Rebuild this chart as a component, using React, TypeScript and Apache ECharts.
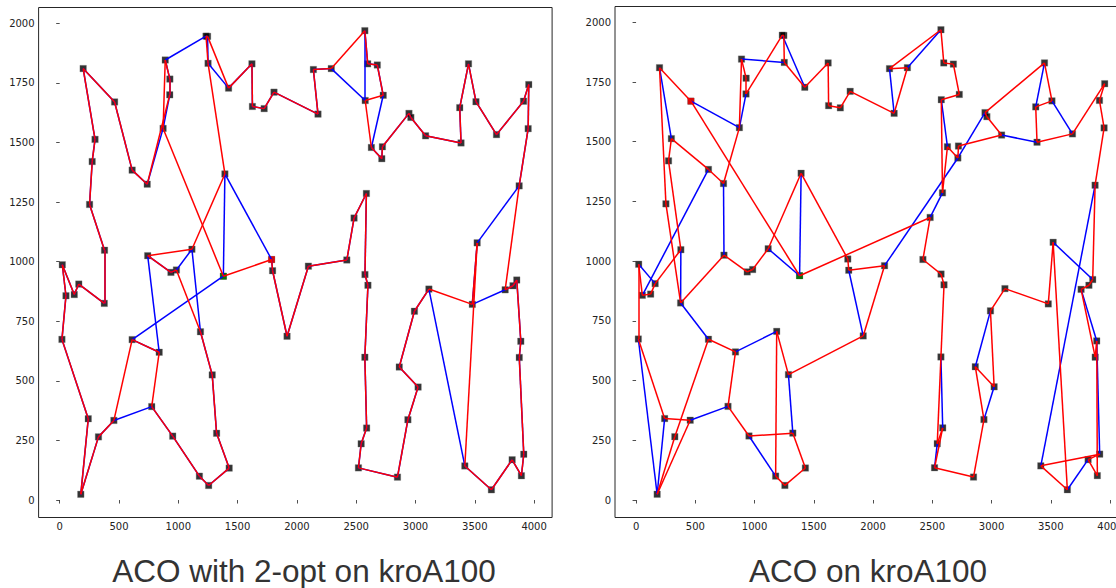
import React, { useEffect, useRef } from "react";
import * as echarts from "echarts";

// kroA100 city coordinates (city n is at index n-1)
const CITY_X = [
  1380, 2848, 3510, 457, 3888, 984, 2721, 1286, 2716, 738,
  1251, 2728, 3815, 3683, 1247, 123, 1234, 252, 611, 2576,
  928, 53, 1807, 274, 2574, 178, 2678, 1795, 3384, 3520,
  1256, 1424, 3913, 3085, 2573, 463, 3875, 298, 3479, 2542,
  3955, 1323, 3447, 2936, 1621, 3373, 1393, 3874, 938, 3022,
  2482, 3854, 376, 2519, 2945, 953, 2628, 2097, 890, 2139,
  2421, 2290, 1115, 2588, 327, 241, 1917, 2991, 2573, 19,
  3911, 872, 2863, 929, 839, 3893, 2178, 3822, 378, 1178,
  2599, 3416, 2961, 611, 3113, 2597, 2586, 161, 1429, 742,
  1625, 1187, 1787, 22, 3640, 3756, 776, 1724, 198, 3950,
];
const CITY_Y = [
  939, 96, 1671, 334, 666, 965, 1482, 525, 1432, 1325,
  1832, 1698, 169, 1533, 1945, 862, 1946, 1240, 673, 1676,
  1700, 857, 1711, 1420, 946, 24, 1825, 962, 1498, 1079,
  61, 1728, 192, 1528, 1969, 1670, 598, 1513, 821, 236,
  1743, 280, 1830, 337, 1830, 1646, 1368, 1318, 955, 474,
  1183, 923, 825, 135, 1622, 268, 1479, 981, 1846, 1806,
  1007, 1810, 1052, 302, 265, 341, 687, 792, 599, 674,
  1673, 1559, 558, 1766, 620, 102, 1619, 899, 1048, 100,
  901, 143, 1605, 1384, 885, 1830, 1286, 906, 134, 1025,
  1651, 706, 1009, 987, 43, 882, 392, 1642, 1810, 1558,
];

// Tours (city numbers)
const RED_TOUR_LEFT = [
  1, 72, 59, 74, 21, 10, 84, 36, 99, 38, 24, 18, 79, 53, 88, 16, 94, 22, 70, 66,
  26, 65, 4, 19, 75, 97, 56, 80, 31, 89, 42, 8, 92, 6, 49, 90, 63, 47, 11, 17,
  15, 32, 45, 91, 98, 23, 77, 60, 62, 35, 86, 27, 12, 20, 57, 9, 7, 55, 83, 34,
  29, 46, 43, 3, 14, 71, 41, 100, 48, 96, 78, 52, 5, 37, 33, 76, 13, 95, 82, 30,
  39, 85, 68, 73, 50, 44, 2, 54, 40, 64, 69, 81, 25, 87, 51, 61, 58, 67, 28, 93,
];
const BLUE_TOUR_LEFT = [
  1, 19, 75, 90, 49, 6, 63, 92, 8, 42, 89, 31, 80, 56, 97, 4, 65, 26, 66, 70,
  22, 94, 16, 88, 53, 79, 18, 24, 38, 99, 36, 84, 10, 72, 21, 74, 59, 17, 15, 11,
  32, 45, 91, 98, 23, 77, 60, 62, 20, 35, 86, 27, 12, 57, 9, 7, 55, 83, 34, 29,
  46, 43, 3, 14, 71, 41, 100, 48, 30, 39, 96, 78, 52, 5, 37, 33, 76, 13, 95, 82,
  85, 68, 73, 50, 44, 2, 54, 40, 64, 69, 81, 25, 87, 51, 61, 58, 67, 28, 93, 47,
];
const RED_TOUR_RIGHT = [
  1, 51, 61, 25, 81, 69, 40, 64, 54, 2, 44, 73, 50, 68, 85, 39, 30, 95, 82, 33,
  13, 76, 5, 37, 96, 78, 52, 48, 100, 71, 41, 14, 29, 46, 3, 43, 55, 83, 34, 7,
  9, 57, 87, 20, 12, 27, 86, 35, 60, 62, 77, 23, 98, 91, 45, 32, 11, 15, 17, 21,
  74, 59, 72, 10, 84, 38, 24, 79, 88, 16, 22, 94, 70, 66, 4, 26, 65, 19, 75, 97,
  56, 42, 89, 31, 80, 92, 8, 67, 58, 28, 93, 47, 63, 6, 49, 90, 53, 18, 99, 36,
];
const BLUE_EDGES_RIGHT = [
  [99, 38], [36, 72], [84, 22], [10, 90], [72, 21], [59, 11], [17, 32], [77, 60],
  [62, 35], [20, 57], [55, 9], [9, 58], [87, 51], [43, 46], [3, 14], [34, 29],
  [48, 82], [30, 52], [96, 5], [5, 33], [95, 13], [73, 68], [44, 50], [69, 64],
  [40, 54], [28, 67], [8, 42], [80, 56], [75, 92], [4, 97], [53, 19], [53, 79],
  [94, 88], [70, 26], [26, 66], [63, 1], [1, 47],
];

const START_CITY = 1;
const END_CITY_LEFT = 93;
const END_CITY_RIGHT = 36;

const X_TICKS = [0, 500, 1000, 1500, 2000, 2500, 3000, 3500, 4000];
const Y_TICKS = [0, 250, 500, 750, 1000, 1250, 1500, 1750, 2000];
const TITLES = ["ACO with 2-opt on kroA100", "ACO on kroA100"];

const pt = (c: number) => [CITY_X[c - 1], CITY_Y[c - 1]];
const tourEdges = (t: number[]) =>
  t.map((c, i) => ({ coords: [pt(c), pt(t[(i + 1) % t.length])] }));
const pairEdges = (p: number[][]) => p.map(([a, b]) => ({ coords: [pt(a), pt(b)] }));

export default function App() {
  const ref = useRef<HTMLDivElement>(null);
  useEffect(() => {
    if (!ref.current) return;
    const chart = echarts.init(ref.current, null, { renderer: "svg" });
    const xMinD = Math.min(...CITY_X), xMaxD = Math.max(...CITY_X);
    const yMinD = Math.min(...CITY_Y), yMaxD = Math.max(...CITY_Y);
    const xPad = (xMaxD - xMinD) * 0.05, yPad = (yMaxD - yMinD) * 0.05;
    const font = "DejaVu Sans";
    const mkX = (g: number) => ({
      type: "value", gridIndex: g, min: xMinD - xPad, max: xMaxD + xPad,
      axisLine: { show: false }, splitLine: { show: false },
      axisTick: { show: true, customValues: X_TICKS, length: 3.5, lineStyle: { color: "#222", width: 0.8 } },
      axisLabel: { customValues: X_TICKS, fontSize: 10, color: "#222", margin: 4, fontFamily: font, formatter: (v: number) => String(v) },
    });
    const mkY = (g: number) => ({
      type: "value", gridIndex: g, min: yMinD - yPad, max: yMaxD + yPad,
      axisLine: { show: false }, splitLine: { show: false },
      axisTick: { show: true, customValues: Y_TICKS, length: 3.5, lineStyle: { color: "#222", width: 0.8 } },
      axisLabel: { customValues: Y_TICKS, fontSize: 10, color: "#222", margin: 4, fontFamily: font, formatter: (v: number) => String(v) },
    });
    const cities = CITY_X.map((x, i) => [x, CITY_Y[i]]);
    const panel = (g: number, red: any[], blue: any[], endCity: number) => [
      { type: "scatter", xAxisIndex: g, yAxisIndex: g, data: cities, symbol: "rect", symbolSize: 6.5, itemStyle: { color: "#000", borderColor: "#777", borderWidth: 0.4 }, z: 2, silent: true },
      { type: "scatter", xAxisIndex: g, yAxisIndex: g, data: [pt(START_CITY)], symbol: "rect", symbolSize: 6.5, itemStyle: { color: "#008000" }, z: 2, silent: true },
      { type: "scatter", xAxisIndex: g, yAxisIndex: g, data: [pt(endCity)], symbol: "rect", symbolSize: 6.5, itemStyle: { color: "#ff0000" }, z: 2, silent: true },
      { type: "lines", coordinateSystem: "cartesian2d", xAxisIndex: g, yAxisIndex: g, data: blue, lineStyle: { color: "#0000ff", width: 1.5, opacity: 1 }, z: 3, silent: true },
      { type: "lines", coordinateSystem: "cartesian2d", xAxisIndex: g, yAxisIndex: g, data: red, lineStyle: { color: "#ff0000", width: 1.5, opacity: 1 }, z: 4, silent: true },
    ];
    chart.setOption({
      animation: false,
      backgroundColor: "#fff",
      grid: [
        { left: 38.6, top: 7.5, width: 513.5, height: 510, show: true, borderColor: "#262626", borderWidth: 1, backgroundColor: "transparent" },
        { left: 615, top: 6.5, width: 513, height: 511, show: true, borderColor: "#262626", borderWidth: 1, backgroundColor: "transparent" },
      ],
      xAxis: [mkX(0), mkX(1)],
      yAxis: [mkY(0), mkY(1)],
      series: [
        ...panel(0, tourEdges(RED_TOUR_LEFT), tourEdges(BLUE_TOUR_LEFT), END_CITY_LEFT),
        ...panel(1, tourEdges(RED_TOUR_RIGHT), pairEdges(BLUE_EDGES_RIGHT), END_CITY_RIGHT),
      ],
      graphic: [
        { type: "text", x: 304, y: 571, style: { text: TITLES[0], fontSize: 31.5, fontFamily: "Liberation Sans", fill: "#333", textAlign: "center", textVerticalAlign: "middle", align: "center", verticalAlign: "middle" } },
        { type: "text", x: 868, y: 571, style: { text: TITLES[1], fontSize: 31.5, fontFamily: "Liberation Sans", fill: "#333", textAlign: "center", textVerticalAlign: "middle", align: "center", verticalAlign: "middle" } },
      ],
    });
    return () => chart.dispose();
  }, []);
  return (
    <div style={{ position: "fixed", left: 0, top: 0, width: 1116, height: 588, overflow: "hidden", background: "#fff" }}>
      <div ref={ref} style={{ width: 1140, height: 588 }} />
    </div>
  );
}
